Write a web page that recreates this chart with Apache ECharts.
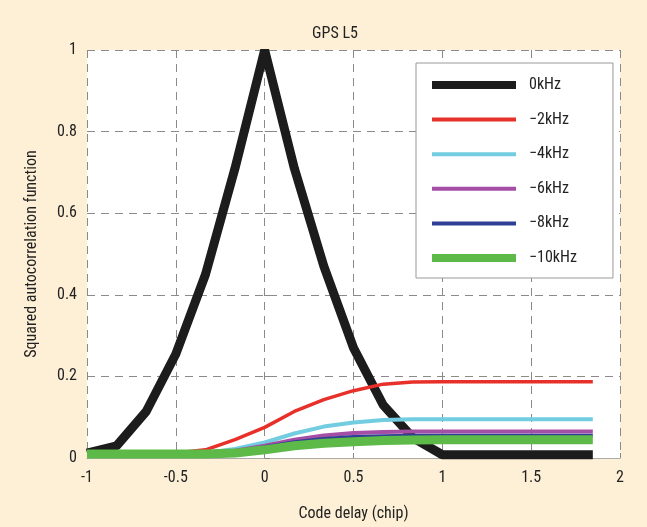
<!DOCTYPE html>
<html>
<head>
<meta charset="utf-8">
<script src="https://cdn.jsdelivr.net/npm/echarts@6/dist/echarts.min.js"></script>
<style>
html,body{margin:0;padding:0;background:#FEF0D6;}
#c{width:647px;height:527px;}
</style>
</head>
<body>
<div id="c"></div>
<script>
var delays = [-1, -0.833, -0.667, -0.5, -0.333, -0.167, 0, 0.167, 0.333, 0.5, 0.667, 0.833, 1, 1.167, 1.333, 1.5, 1.667, 1.847];
var seriesNames = ['0kHz', '\u22122kHz', '\u22124kHz', '\u22126kHz', '\u22128kHz', '\u221210kHz'];
var f0 = [0.012, 0.03, 0.114, 0.255, 0.45, 0.71, 1.0, 0.71, 0.47, 0.27, 0.13, 0.05, 0.008, 0.008, 0.008, 0.008, 0.008, 0.008];
var f2 = [0.01, 0.01, 0.01, 0.012, 0.02, 0.045, 0.075, 0.114, 0.143, 0.165, 0.181, 0.186, 0.187, 0.187, 0.187, 0.187, 0.187, 0.187];
var f4 = [0.01, 0.01, 0.01, 0.01, 0.012, 0.022, 0.038, 0.06, 0.077, 0.087, 0.093, 0.095, 0.095, 0.095, 0.095, 0.095, 0.095, 0.095];
var f6 = [0.01, 0.01, 0.01, 0.01, 0.011, 0.018, 0.03, 0.045, 0.055, 0.061, 0.064, 0.065, 0.065, 0.065, 0.065, 0.065, 0.065, 0.065];
var f8 = [0.01, 0.01, 0.01, 0.01, 0.011, 0.016, 0.027, 0.039, 0.047, 0.052, 0.054, 0.055, 0.055, 0.055, 0.055, 0.055, 0.055, 0.055];
var f10 = [0.01, 0.01, 0.01, 0.01, 0.01, 0.012, 0.02, 0.03, 0.036, 0.04, 0.043, 0.044, 0.045, 0.045, 0.045, 0.045, 0.045, 0.045];

var allValues = [f0, f2, f4, f6, f8, f10];
var colors = ['#1c1c1c', '#e8302a', '#72cde0', '#a54ea6', '#2f3f96', '#5db948'];
var widths = [9, 3.5, 4, 4, 3.5, 9];
var legendThick = [8, 4, 4, 4, 4, 8];

function pairs(v){ return delays.map(function(x,i){ return [x, v[i]]; }); }

var FONT = '"Liberation Sans Narrow","Roboto Condensed","DejaVu Sans Condensed",sans-serif';

var series = seriesNames.map(function(n, k){
  return {
    name: n, type: 'line', data: pairs(allValues[k]), showSymbol: false, symbol: 'none',
    lineStyle: {color: colors[k], width: widths[k]}, itemStyle: {color: colors[k]},
    z: 2 + k, animation: false
  };
});

var chart = echarts.init(document.getElementById('c'));
chart.setOption({
  backgroundColor: '#FEF0D6',
  animation: false,
  title: {text: 'GPS L5', left: 330, top: 21, textAlign: 'center',
    textStyle: {fontFamily: FONT, fontSize: 16, fontWeight: 'normal', color: '#222'}},
  grid: {left: 87, right: 27, top: 50, bottom: 68, show: true, backgroundColor: '#ffffff', borderWidth: 0},
  legend: {
    orient: 'vertical', left: 416, top: 63, width: 196,
    backgroundColor: '#ffffff', borderColor: '#999', borderWidth: 1,
    padding: [14, 36, 12, 16], itemGap: 18.6, itemWidth: 84, itemHeight: 18,
    symbolKeepAspect: true,
    textStyle: {fontFamily: FONT, fontSize: 16, color: '#222', padding: [0,0,0,8]},
    data: seriesNames.map(function(n,k){
      return {name: n, icon: 'path://M0,0h84v' + legendThick[k] + 'h-84z', itemStyle: {color: colors[k]}};
    })
  },
  xAxis: {
    type: 'value', min: -1, max: 2, interval: 0.5,
    name: 'Code delay (chip)', nameLocation: 'middle', nameGap: 48,
    nameTextStyle: {fontFamily: FONT, fontSize: 16, color: '#222'},
    axisLine: {show: true, lineStyle: {color: '#aaa', width: 1}},
    axisTick: {show: true, inside: true, length: 5, lineStyle: {color: '#888'}},
    axisLabel: {fontFamily: FONT, fontSize: 16, color: '#222', margin: 12},
    splitLine: {show: true, lineStyle: {color: '#8a8a8a', type: [8, 6], width: 1}}
  },
  yAxis: {
    type: 'value', min: 0, max: 1, interval: 0.2,
    name: 'Squared autocorrelation function', nameLocation: 'middle', nameGap: 47,
    nameTextStyle: {fontFamily: FONT, fontSize: 16, color: '#222'},
    axisLine: {show: false},
    axisTick: {show: true, inside: true, length: 5, lineStyle: {color: '#888'}},
    axisLabel: {fontFamily: FONT, fontSize: 16, color: '#222', margin: 10},
    splitLine: {show: true, lineStyle: {color: '#8a8a8a', type: [8, 6], width: 1}}
  },
  series: series
});
</script>
</body>
</html>
